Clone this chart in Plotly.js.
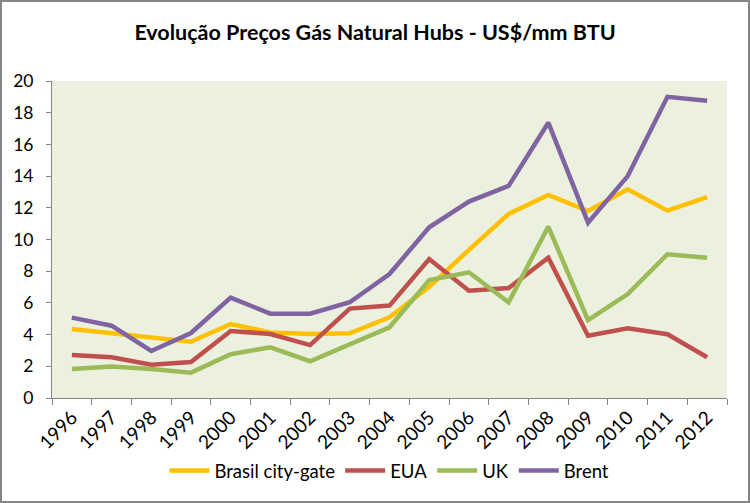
<!DOCTYPE html>
<html><head><meta charset="utf-8">
<script src="https://cdn.plot.ly/plotly-3.0.1.min.js"></script>
<style>html,body{margin:0;padding:0;background:#fff}#c{width:750px;height:503px}#b{position:fixed;left:0;top:0;width:750px;height:503px;box-sizing:border-box;border:2px solid #868686;pointer-events:none}</style>
</head><body><div id="c"></div><div id="b"></div>
<script>
const years = ['1996','1997','1998','1999','2000','2001','2002','2003','2004','2005','2006','2007','2008','2009','2010','2011','2012'];
const brasil = [4.35,4.08,3.81,3.55,4.67,4.14,4.04,4.08,5.09,7.02,9.34,11.61,12.81,11.8,13.17,11.82,12.68];
const eua = [2.71,2.57,2.1,2.27,4.23,4.04,3.34,5.64,5.83,8.77,6.77,6.94,8.85,3.93,4.4,4.02,2.57];
const uk = [1.83,1.98,1.83,1.6,2.76,3.2,2.32,3.41,4.46,7.44,7.93,6.04,10.81,4.92,6.56,9.07,8.85];
const brent = [5.07,4.56,2.97,4.1,6.33,5.32,5.32,6.04,7.82,10.77,12.39,13.38,17.37,11.06,14.0,19.0,18.76];
const names = ['Brasil city-gate','EUA','UK','Brent'];
const colors = ['#FFC000','#C0504D','#9BBB59','#8064A2'];
const series = [brasil, eua, uk, brent];
const font = 'Lato, "Open Sans", sans-serif';
const data = series.map((s,i)=>({x:years,y:s,type:'scatter',mode:'lines',name:names[i],line:{color:colors[i],width:4.5}}));
const layout = {
  width:750,height:503,
  margin:{l:52,r:23,t:81,b:105},
  paper_bgcolor:'#fff',plot_bgcolor:'#EBF1DE',
  font:{family:font,color:'#000',size:18},
  title:{text:'<b>Evolução Preços Gás Natural Hubs - US$/mm BTU</b>',x:0.5,xanchor:'center',y:0.935,yanchor:'middle',font:{family:font,size:21.5,color:'#000'}},
  xaxis:{type:'category',showline:true,linecolor:'#868686',linewidth:1,ticks:'outside',ticklen:6,tickcolor:'#868686',tickson:'boundaries',tickangle:-45,showgrid:false,zeroline:false,tickfont:{size:19},range:[-0.5,16.5]},
  yaxis:{range:[0,20],dtick:2,showline:true,linecolor:'#868686',linewidth:1,ticks:'outside',ticklen:5,tickcolor:'#868686',showgrid:false,zeroline:false,tickfont:{size:17.5},ticklabelstandoff:9},
  showlegend:true,
  legend:{orientation:'h',x:0.5,xanchor:'center',y:-0.23,yanchor:'middle',font:{size:18.5},itemwidth:40,bgcolor:'rgba(0,0,0,0)'}
};
Plotly.newPlot('c',data,layout,{displayModeBar:false,staticPlot:true});
</script></body></html>
